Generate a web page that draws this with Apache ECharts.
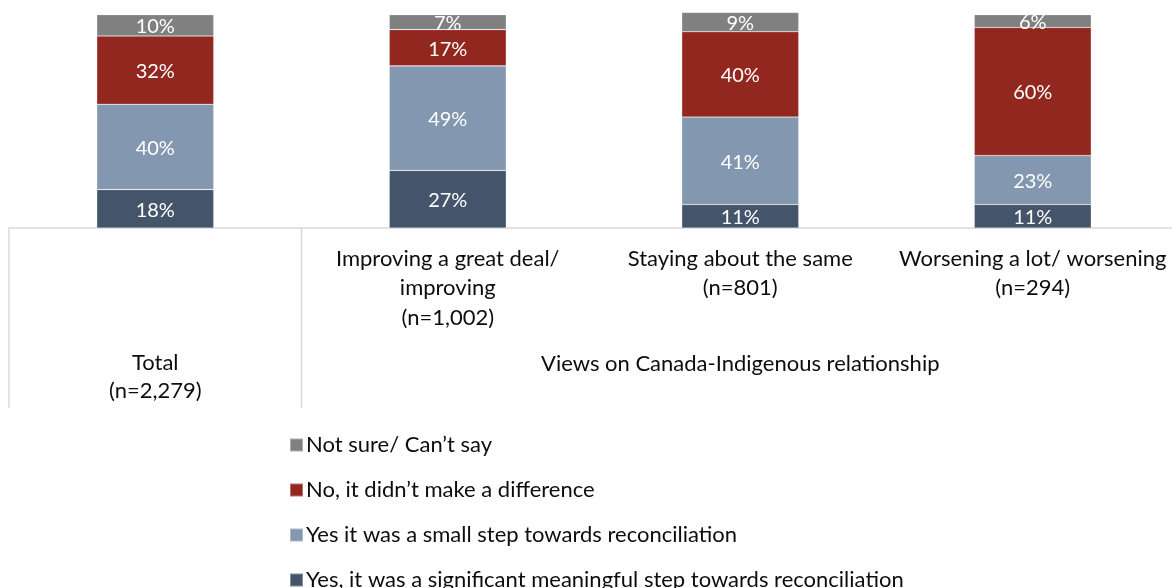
<!DOCTYPE html>
<html>
<head>
<meta charset="utf-8">
<script src="https://cdn.jsdelivr.net/npm/echarts@6/dist/echarts.min.js"></script>
<style>
  html, body { margin: 0; padding: 0; background: #ffffff; }
  #chart { width: 1172px; height: 588px; }
</style>
</head>
<body>
<div id="chart"></div>
<script>
// Survey breakdown by view on the Canada-Indigenous relationship
const categories = ['Total', 'Improving a great deal/\nimproving', 'Staying about the same', 'Worsening a lot/ worsening'];
const sampleSizes = ['(n=2,279)', '(n=1,002)', '(n=801)', '(n=294)'];
const groupLabel = 'Views on Canada-Indigenous relationship';

const seriesNames = [
  'Yes, it was a significant meaningful step towards reconciliation',
  'Yes it was a small step towards reconciliation',
  'No, it didn\u2019t make a difference',
  'Not sure/ Can\u2019t say'
];
const significantStep = [18, 27, 11, 11];
const smallStep = [40, 49, 41, 23];
const noDifference = [32, 17, 40, 60];
const notSure = [10, 7, 9, 6];

const colors = ['#44546A', '#8497B0', '#922720', '#808080'];
const FONT = 'Lato, "Liberation Sans", sans-serif';
const TEXT_COLOR = '#0d0d0d';
const LINE_COLOR = '#d9d9d9';
const AXIS_FONT_SIZE = 22;

const chart = echarts.init(document.getElementById('chart'), null, { renderer: 'canvas' });

const values = [significantStep, smallStep, noDifference, notSure];

const option = {
  animation: false,
  backgroundColor: '#ffffff',
  grid: { left: 9, width: 1170, top: 4, height: 224, containLabel: false, outerBoundsMode: 'none' },
  xAxis: {
    type: 'category',
    data: categories,
    axisLine: { show: true, lineStyle: { color: LINE_COLOR, width: 1.5 } },
    axisTick: { show: false },
    axisLabel: { show: false }
  },
  yAxis: {
    type: 'value',
    min: 0,
    max: 105,
    show: false,
    splitLine: { show: false }
  },
  legend: {
    orient: 'vertical',
    left: 284,
    top: 429,
    height: 300,
    icon: 'rect',
    itemWidth: 13,
    itemHeight: 13,
    itemGap: 23,
    data: [seriesNames[3], seriesNames[2], seriesNames[1], seriesNames[0]],
    textStyle: { fontFamily: FONT, fontSize: AXIS_FONT_SIZE, color: TEXT_COLOR, lineHeight: 22, padding: [0, 0, 0, -2] }
  },
  series: values.map((arr, i) => ({
    name: seriesNames[i],
    type: 'bar',
    stack: 'all',
    barWidth: '40%',
    clip: false,
    data: arr,
    itemStyle: { color: colors[i], borderColor: 'rgba(255,255,255,0.35)', borderWidth: 0.6 },
    label: {
      show: true,
      position: 'inside',
      offset: [0, 1.5],
      formatter: '{c}%',
      color: '#ffffff',
      fontFamily: FONT,
      fontSize: 20
    }
  }))
};

chart.setOption(option);

// Category labels and the table-style dividers under the axis
function drawAxisTable() {
  const centers = categories.map((c, i) => chart.convertToPixel({ xAxisIndex: 0 }, i));
  const band = centers[1] - centers[0];
  const axisY = chart.convertToPixel({ yAxisIndex: 0 }, 0);
  const bottomY = 408;
  const lineH = 29.5;
  const elements = [];

  // vertical dividers: left edge and between Total and the grouped categories
  [centers[0] - band / 2, centers[0] + band / 2].forEach(x => {
    elements.push({
      type: 'line',
      shape: { x1: x, y1: axisY, x2: x, y2: bottomY },
      style: { stroke: LINE_COLOR, lineWidth: 1.5 }
    });
  });

  // first-level labels for the grouped categories
  for (let i = 1; i < categories.length; i++) {
    elements.push({
      type: 'text',
      x: centers[i],
      y: 244,
      style: {
        text: categories[i] + '\n' + sampleSizes[i],
        fontFamily: FONT, fontSize: AXIS_FONT_SIZE, fill: TEXT_COLOR,
        align: 'center', verticalAlign: 'top', lineHeight: lineH
      }
    });
  }

  // Total spans both levels
  elements.push({
    type: 'text',
    x: centers[0],
    y: 349,
    style: {
      text: categories[0] + '\n' + sampleSizes[0],
      fontFamily: FONT, fontSize: AXIS_FONT_SIZE, fill: TEXT_COLOR,
      align: 'center', verticalAlign: 'top', lineHeight: lineH - 1.5
    }
  });

  // group label
  elements.push({
    type: 'text',
    x: (centers[1] + centers[3]) / 2,
    y: 349,
    style: {
      text: groupLabel,
      fontFamily: FONT, fontSize: AXIS_FONT_SIZE, fill: TEXT_COLOR,
      align: 'center', verticalAlign: 'top', lineHeight: lineH
    }
  });

  chart.setOption({ graphic: { elements: elements } });
}

drawAxisTable();
</script>
</body>
</html>
